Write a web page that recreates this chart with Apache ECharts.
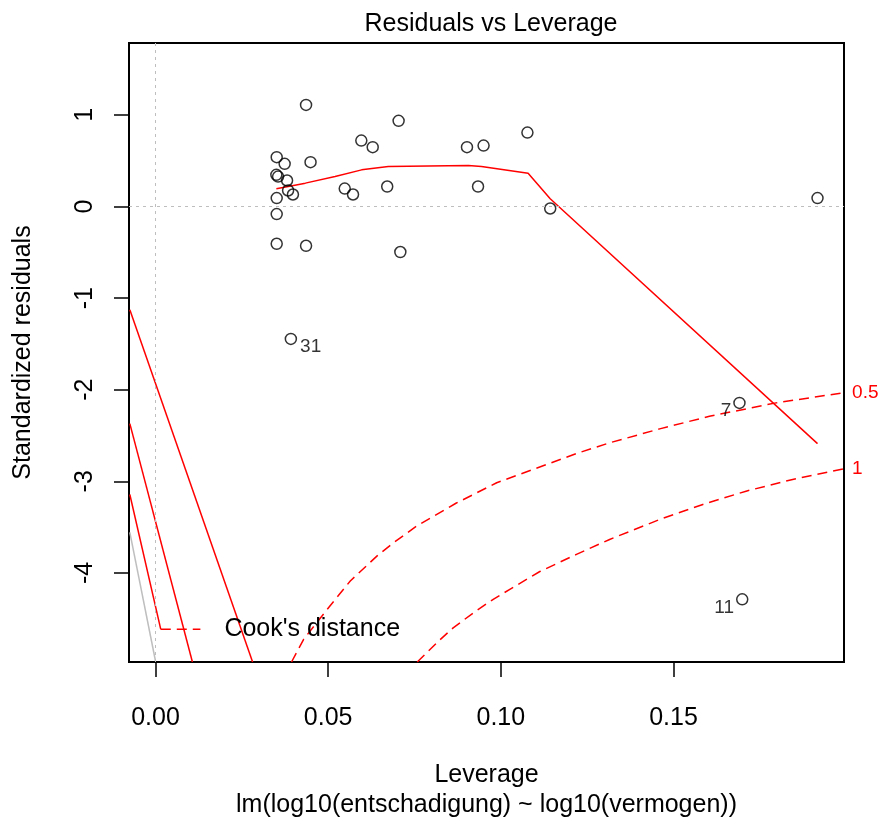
<!DOCTYPE html>
<html>
<head>
<meta charset="utf-8">
<script src="https://cdn.jsdelivr.net/npm/echarts@6/dist/echarts.min.js"></script>
<style>
html,body{margin:0;padding:0;background:#fff;}
#chart{width:883px;height:825px;}
</style>
</head>
<body>
<div id="chart"></div>
<script>
// ---- data ----
const leverage = [0.0436,0.0704,0.0596,0.0629,0.0902,0.0950,0.0351,0.0374,0.0449,0.0350,
                  0.0355,0.0381,0.0384,0.0398,0.0351,0.0351,0.0351,0.0436,0.0709,0.0548,
                  0.0572,0.0671,0.0934,0.1077,0.1143,0.1917,0.0392,0.1691,0.1699];
const stdResid = [1.109,0.935,0.720,0.648,0.648,0.665,0.539,0.466,0.484,0.346,
                  0.327,0.284,0.175,0.131,0.092,-0.083,-0.407,-0.429,-0.497,0.196,
                  0.131,0.218,0.218,0.807,-0.022,0.092,-1.446,-2.144,-4.289];
const pointIds = ['','','','','','','','','','','','','','','','','','','','','','','','','','','31','7','11'];

const smoothX = [0.0350,0.0434,0.0436,0.0520,0.0597,0.0674,0.0906,0.0944,0.1079,0.1143,0.1917];
const smoothY = [0.193,0.255,0.262,0.327,0.400,0.436,0.447,0.436,0.364,0.084,-2.589];

const cook05X = [0.0394,0.0429,0.0501,0.0564,0.0641,0.0689,0.0756,0.0870,0.0988,0.1093,0.1219,0.1315,0.1460,0.1604,0.1797,0.1994];
const cook05Y = [-4.973,-4.725,-4.380,-4.089,-3.817,-3.671,-3.490,-3.240,-3.016,-2.871,-2.697,-2.580,-2.428,-2.290,-2.144,-2.032];

const cook1X = [0.0758,0.0824,0.0862,0.0930,0.0978,0.1026,0.1113,0.1219,0.1315,0.1460,0.1585,0.1710,0.1845,0.1994];
const cook1Y = [-4.973,-4.730,-4.600,-4.410,-4.289,-4.180,-3.985,-3.798,-3.635,-3.417,-3.253,-3.108,-2.980,-2.864];

const leftLineA = [[-0.00743,-1.127],[0.02812,-4.973]];
const leftLineB = [[-0.00743,-2.370],[0.01069,-4.973]];
const leftLineC = [[-0.00743,-3.144],[0.00153,-4.616]];
const grayLine  = [[-0.00743,-3.558],[0.0000,-4.962]];
const legendStub = [[0.00153,-4.616],[0.0130,-4.616]];

const xTicks = [0, 0.05, 0.10, 0.15];
const yTicks = [-4, -3, -2, -1, 0, 1];
const xMin = -0.00767, xMax = 0.19937;
const yMin = -4.973, yMax = 1.785;

// ---- chart ----
const FONT = "'Liberation Sans', Arial, Helvetica, sans-serif";
const zip = (a, b) => a.map((v, i) => [v, b[i]]);
const chart = echarts.init(document.getElementById('chart'), null, {renderer: 'canvas'});

const pts = leverage.map((x, i) => {
  const item = {value: [x, stdResid[i]]};
  if (pointIds[i]) {
    const right = x < 0.1;
    item.label = {
      show: true, formatter: pointIds[i],
      position: right ? 'right' : 'left',
      distance: right ? 3 : 2,
      offset: [0, 8],
      fontSize: 19, color: '#000', fontFamily: FONT
    };
  }
  return item;
});

const red = '#ff0000';
const solidRed = (data) => ({
  type: 'line', data, symbol: 'none', silent: true, z: 2,
  lineStyle: {color: red, width: 1.5}
});
const dashedRed = (data, lbl) => ({
  type: 'line', data, symbol: 'none', silent: true, z: 2,
  lineStyle: {color: red, width: 1.5, type: [10, 6]},
  endLabel: {show: true, formatter: lbl, color: red, fontSize: 19, fontFamily: FONT, distance: 8}
});

chart.setOption({
  animation: false,
  backgroundColor: '#fff',
  textStyle: {fontFamily: FONT},
  title: {
    text: 'Residuals vs Leverage',
    left: 486, top: 7, textAlign: 'center',
    textStyle: {fontSize: 25, fontWeight: 'normal', color: '#000', fontFamily: FONT}
  },
  grid: {
    left: 129, top: 43, width: 715, height: 620,
    show: true, borderColor: '#000', borderWidth: 2, backgroundColor: 'transparent',
    containLabel: false
  },
  xAxis: {
    type: 'value', min: xMin, max: xMax,
    splitLine: {show: false},
    axisLine: {show: false, onZero: false},
    axisTick: {show: true, length: 15, inside: false, customValues: xTicks, lineStyle: {color: '#000', width: 1.5}},
    axisLabel: {customValues: xTicks, formatter: v => v.toFixed(2), margin: 44, fontSize: 25, color: '#000', fontFamily: FONT},
    name: 'Leverage\nlm(log10(entschadigung) ~ log10(vermogen))',
    nameLocation: 'middle', nameGap: 98,
    nameTextStyle: {fontSize: 25, lineHeight: 30, color: '#000', fontFamily: FONT}
  },
  yAxis: {
    type: 'value', min: yMin, max: yMax,
    splitLine: {show: false},
    axisLine: {show: false, onZero: false},
    axisTick: {show: true, length: 15, inside: false, customValues: yTicks, lineStyle: {color: '#000', width: 1.5}},
    axisLabel: {customValues: yTicks, rotate: 90, margin: 31, fontSize: 25, color: '#000', fontFamily: FONT},
    name: 'Standardized residuals',
    nameLocation: 'middle', nameGap: 93,
    nameTextStyle: {fontSize: 25, color: '#000', fontFamily: FONT}
  },
  series: [
    solidRed(zip(smoothX, smoothY)),
    dashedRed(zip(cook05X, cook05Y), '0.5'),
    dashedRed(zip(cook1X, cook1Y), '1'),
    solidRed(leftLineA),
    solidRed(leftLineB),
    solidRed(leftLineC),
    {type: 'line', data: grayLine, symbol: 'none', silent: true, z: 1,
     lineStyle: {color: '#bebebe', width: 1.5}},
    {type: 'line', data: legendStub, symbol: 'none', silent: true, z: 2,
     lineStyle: {color: red, width: 1.5, type: [10, 6]},
     endLabel: {show: true, formatter: "Cook's distance", color: '#000', fontSize: 25, fontFamily: FONT, distance: 24}},
    {
      type: 'scatter', data: pts, z: 3,
      symbol: 'circle', symbolSize: 11,
      itemStyle: {color: 'transparent', borderColor: '#000', borderWidth: 1.5},
      markLine: {
        silent: true, symbol: ['none', 'none'], label: {show: false},
        lineStyle: {color: '#bebebe', width: 1, type: [3, 4]},
        data: [{xAxis: 0}, {yAxis: 0}]
      }
    }
  ]
});
</script>
</body>
</html>
